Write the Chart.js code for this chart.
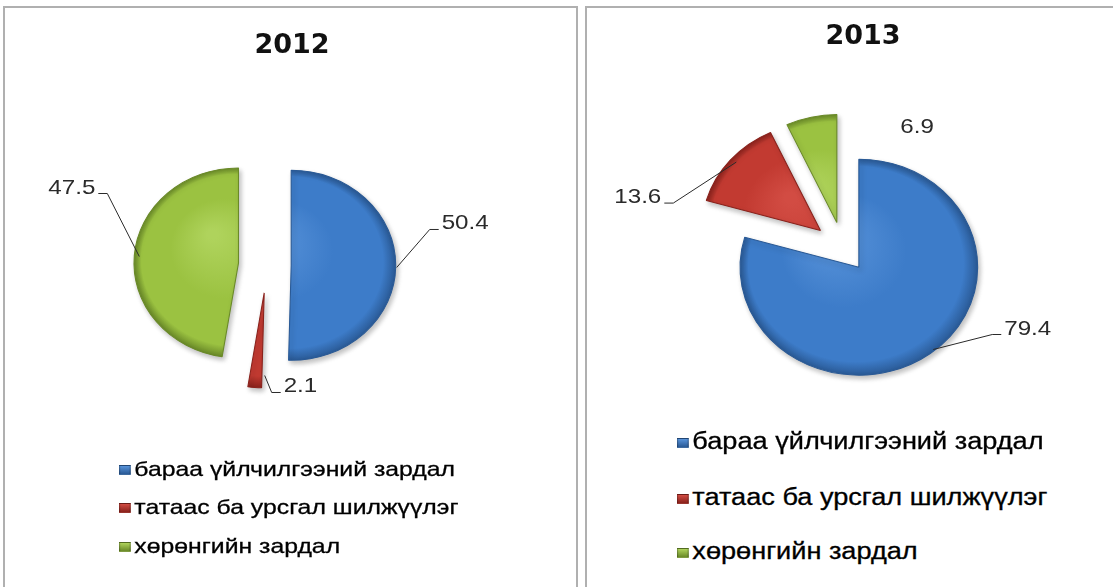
<!DOCTYPE html>
<html>
<head>
<meta charset="utf-8">
<script src="https://cdn.jsdelivr.net/npm/chart.js@4.4.1/dist/chart.umd.min.js"></script>
<style>
  body { margin: 0; width: 1113px; height: 587px; background: #fff; position: relative; overflow: hidden; font-family: "Liberation Sans", Arial, sans-serif; }
  .panel { position: absolute; top: 6px; height: 600px; border: 2px solid #b0b0b0; background: #fff; }
  #panel1 { left: 3px; width: 571px; }
  #panel2 { left: 585px; width: 560px; }
  canvas { position: absolute; }
  .title { position: absolute; width: 200px; text-align: center; font-family: "DejaVu Sans", sans-serif; font-weight: bold; font-size: 27px; line-height: 1; color: #111; }
  .legend-item { position: absolute; white-space: nowrap; line-height: 1; color: #000; -webkit-text-stroke: 0.3px #000; transform-origin: left center; }
  .legend-item i { display: inline-block; width: 8px; height: 8px; margin-right: 3px; vertical-align: 1px; border: 1px solid rgba(0,0,0,0.25); -webkit-text-stroke: 0; }
</style>
</head>
<body>
<div class="panel" id="panel1"></div>
<div class="panel" id="panel2"></div>
<canvas id="chart2012" width="520" height="500" style="left:7px; top:15px;"></canvas>
<canvas id="chart2013" width="500" height="460" style="left:593px; top:18px;"></canvas>
<script>
// chart data
const categories = ['бараа үйлчилгээний зардал', 'татаас ба урсгал шилжүүлэг', 'хөрөнгийн зардал'];
const years = ['2012', '2013'];
const values2012 = [50.4, 2.1, 47.5];
const values2013 = [79.4, 13.6, 6.9];

// Excel-like slice colours (light / base / dark)
const shades = [
  { light: '#5893da', base: '#3d7cc9', dark: '#2a5a96' },
  { light: '#d24c43', base: '#c23a31', dark: '#8a221c' },
  { light: '#afd35c', base: '#9bc241', dark: '#6a8a28' }
];

// layout of each panel (styling only)
const layouts = {
  '2012': {
    canvas: 'chart2012', radius: 95, stretch: 1.1, explode: [22, 28, 26],
    title: { x: 292, y: 30 },
    legend: { x: 119, rows: [458, 496, 535], size: 21, scale: 1.18 },
    place: [
      { start: [1, 1], elbow: [34, -37], side: 1, line: true },
      { start: [10, -12], elbow: [17, 5], side: 1, line: true },
      { start: [5, 1], elbow: [-27, -62], side: -1, line: true }
    ]
  },
  '2013': {
    canvas: 'chart2013', radius: 108, stretch: 1.1, explode: [24, 27, 26],
    title: { x: 863, y: 21 },
    legend: { x: 677, rows: [430, 486, 540], size: 23, scale: 1.18 },
    place: [
      { start: [3, -4], elbow: [62, -19], side: 1, line: true },
      { start: [6, 2], elbow: [-57, 43], side: -1, line: true },
      { start: [0, 0], elbow: [77, 16], side: 1, line: false }
    ]
  }
};

// draws each slice pulled out from the centre, with a slight horizontal stretch
const explodePlugin = {
  id: 'explode',
  beforeDatasetsDraw(chart, args, opts) {
    const ctx = chart.ctx;
    const meta = chart.getDatasetMeta(0);
    meta.data.forEach((arc, i) => {
      const mid = (arc.startAngle + arc.endAngle) / 2;
      const d = opts.explode[i];
      ctx.save();
      ctx.translate(arc.x, arc.y);
      ctx.scale(opts.stretch, 1);
      ctx.translate(-arc.x, -arc.y);
      ctx.translate(Math.cos(mid) * d, Math.sin(mid) * d);
      ctx.shadowColor = 'rgba(0,0,0,0.25)';
      ctx.shadowBlur = 5;
      ctx.shadowOffsetX = 2;
      ctx.shadowOffsetY = 3;
      arc.draw(ctx);
      ctx.restore();
    });
    return false;
  }
};

// value labels with leader lines
const labelPlugin = {
  id: 'sliceLabels',
  afterDraw(chart, args, opts) {
    const ctx = chart.ctx;
    const meta = chart.getDatasetMeta(0);
    const values = chart.data.datasets[0].data;
    ctx.save();
    ctx.font = '21px "Liberation Sans", Arial, sans-serif';
    ctx.fillStyle = '#2a2a2a';
    ctx.strokeStyle = '#2a2a2a';
    ctx.lineWidth = 1;
    meta.data.forEach((arc, i) => {
      const p = opts.place[i];
      const mid = (arc.startAngle + arc.endAngle) / 2;
      const rr = arc.outerRadius + opts.explode[i];
      const ax = arc.x + opts.stretch * Math.cos(mid) * rr;
      const ay = arc.y + Math.sin(mid) * rr;
      const ex = ax + p.elbow[0], ey = ay + p.elbow[1];
      if (p.line) {
        ctx.beginPath();
        ctx.moveTo(ax + p.start[0], ay + p.start[1]);
        ctx.lineTo(ex, ey);
        ctx.lineTo(ex + p.side * 9, ey);
        ctx.stroke();
      }
      ctx.save();
      ctx.translate(ex + p.side * 12, ey);
      ctx.scale(1.15, 1);
      ctx.textAlign = p.side > 0 ? 'left' : 'right';
      ctx.fillText(values[i].toFixed(1), 0, 0);
      ctx.restore();
    });
    ctx.restore();
  }
};

function makePie(year, values) {
  const lay = layouts[year];
  const sliceFill = (c) => {
    const chart = c.chart;
    const area = chart.chartArea;
    const s = shades[c.dataIndex];
    if (!area) return s.base;
    const x = (area.left + area.right) / 2;
    const y = (area.top + area.bottom) / 2;
    const r = lay.radius;
    const g = chart.ctx.createRadialGradient(x - r * 0.25, y - r * 0.3, r * 0.05, x, y, r);
    g.addColorStop(0, s.light);
    g.addColorStop(0.5, s.base);
    g.addColorStop(0.9, s.base);
    g.addColorStop(1, s.dark);
    return g;
  };

  new Chart(document.getElementById(lay.canvas), {
    type: 'pie',
    data: {
      labels: categories,
      datasets: [{
        data: values,
        backgroundColor: sliceFill,
        borderColor: shades.map(s => s.dark),
        borderWidth: 1,
        radius: lay.radius
      }]
    },
    options: {
      responsive: false,
      animation: false,
      devicePixelRatio: 1,
      events: [],
      plugins: {
        legend: { display: false },
        tooltip: { enabled: false },
        explode: { explode: lay.explode, stretch: lay.stretch },
        sliceLabels: { explode: lay.explode, stretch: lay.stretch, place: lay.place }
      }
    },
    plugins: [explodePlugin, labelPlugin]
  });

  // title
  const t = document.createElement('div');
  t.className = 'title';
  t.textContent = year;
  t.style.left = (lay.title.x - 100) + 'px';
  t.style.top = lay.title.y + 'px';
  document.body.appendChild(t);

  // legend
  categories.forEach((name, i) => {
    const item = document.createElement('div');
    item.className = 'legend-item';
    item.style.left = lay.legend.x + 'px';
    item.style.top = lay.legend.rows[i] + 'px';
    item.style.fontSize = lay.legend.size + 'px';
    item.style.transform = 'scaleX(' + lay.legend.scale + ')';
    const box = document.createElement('i');
    box.style.background = 'linear-gradient(' + shades[i].light + ', ' + shades[i].dark + ')';
    item.appendChild(box);
    item.appendChild(document.createTextNode(name));
    document.body.appendChild(item);
  });
}

makePie(years[0], values2012);
makePie(years[1], values2013);
</script>
</body>
</html>
